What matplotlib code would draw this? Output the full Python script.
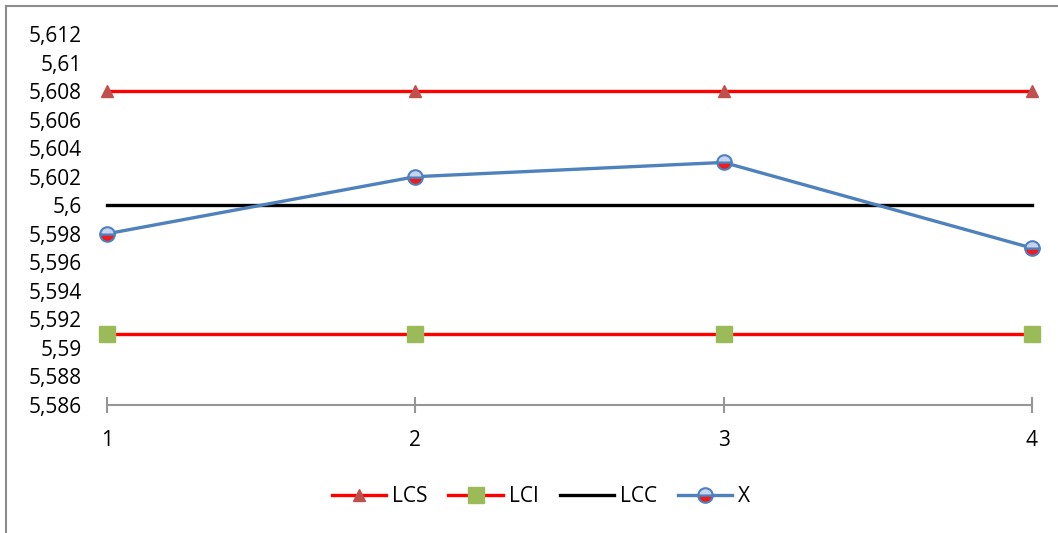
import matplotlib
matplotlib.use("Agg")
import matplotlib.pyplot as plt
from matplotlib.lines import Line2D
from matplotlib.ticker import FuncFormatter, MultipleLocator

plt.rcParams['font.family'] = ['Open Sans', 'DejaVu Sans']

samples = [1, 2, 3, 4]
lcs = [5.608, 5.608, 5.608, 5.608]
lci = [5.591, 5.591, 5.591, 5.591]
lcc = [5.600, 5.600, 5.600, 5.600]
x_values = [5.598, 5.602, 5.603, 5.597]

W, H = 1058, 533
fig = plt.figure(figsize=(W / 100, H / 100), dpi=100)
ax = fig.add_axes([107 / W, (H - 405) / H, (1032 - 107) / W, (405 - 34) / H])

line_w = 2.4
ax.plot(samples, lcs, color='#ff0000', lw=line_w, marker='^', ms=8,
        markerfacecolor='#c0504d', markeredgecolor='#c0504d', label='LCS',
        zorder=3, clip_on=False)
ax.plot(samples, lci, color='#ff0000', lw=line_w, marker='s', ms=11,
        markerfacecolor='#9bbb59', markeredgecolor='#9bbb59', label='LCI',
        zorder=3, clip_on=False)
ax.plot(samples, lcc, color='#000000', lw=line_w, label='LCC', zorder=3, clip_on=False)
ax.plot(samples, x_values, color='#4f81bd', lw=line_w, marker='o', ms=10.5,
        fillstyle='bottom', markerfacecolor='#ee1c1c', markerfacecoloralt='#c5d3ee',
        markeredgecolor='#4f81bd', markeredgewidth=1.5, label='X', zorder=4,
        clip_on=False)

ax.set_xlim(1, 4)
ax.set_ylim(5.586, 5.612)
ax.set_xticks(samples)
ax.yaxis.set_major_locator(MultipleLocator(0.002))


def comma_fmt(v, _pos):
    s = f"{v:.3f}".rstrip('0').rstrip('.')
    return s.replace('.', ',')


ax.yaxis.set_major_formatter(FuncFormatter(comma_fmt))

for side in ['top', 'right', 'left']:
    ax.spines[side].set_visible(False)
ax.spines['bottom'].set_color('#969696')
ax.spines['bottom'].set_linewidth(1.5)
ax.tick_params(axis='x', direction='inout', length=11.5, width=1.5, color='#969696',
               pad=12, labelsize=15)
ax.tick_params(axis='y', length=0, pad=18, labelsize=15)

leg = ax.legend(loc='center', bbox_to_anchor=(541 / W, (H - 497) / H),
                bbox_transform=fig.transFigure, ncol=4, frameon=False,
                fontsize=15, handlelength=2.6, handletextpad=0.3, columnspacing=1.0)

# chart frame (left and top edges)
fig.add_artist(Line2D([5.5 / W, 5.5 / W], [0, 1 - 5.5 / H], color='#8c8c8c', lw=1.5,
                      transform=fig.transFigure))
fig.add_artist(Line2D([5.5 / W, 1], [1 - 5.5 / H, 1 - 5.5 / H], color='#8c8c8c', lw=1.5,
                      transform=fig.transFigure))

fig.savefig('out.png', dpi=100)
